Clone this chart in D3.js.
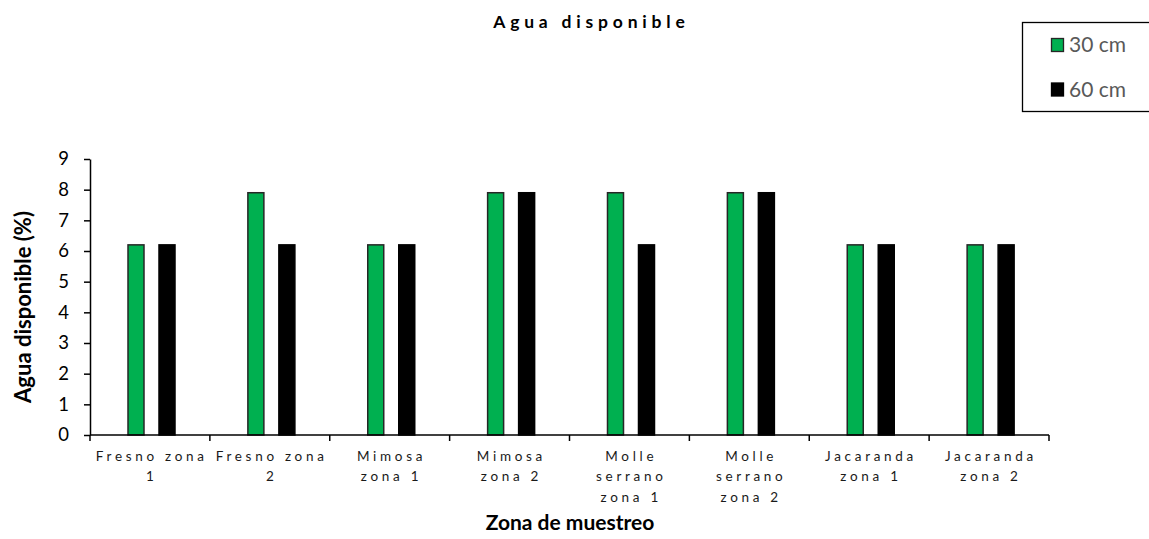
<!DOCTYPE html>
<html>
<head>
<meta charset="utf-8">
<script src="https://cdn.jsdelivr.net/npm/d3@7/dist/d3.min.js"></script>
<style>
  html, body { margin: 0; padding: 0; background: #fff; }
  svg { display: block; }
  text { font-family: Lato, "Open Sans", sans-serif; }
</style>
</head>
<body>
<svg id="chart" width="1149" height="539"></svg>
<script>
// Sampling zones (multi-line labels) and available water by depth
const categories = [
  ["Fresno zona", "1"],
  ["Fresno zona", "2"],
  ["Mimosa", "zona 1"],
  ["Mimosa", "zona 2"],
  ["Molle", "serrano", "zona 1"],
  ["Molle", "serrano", "zona 2"],
  ["Jacaranda", "zona 1"],
  ["Jacaranda", "zona 2"]
];
const values30 = [6.2, 7.9, 6.2, 7.9, 7.9, 7.9, 6.2, 6.2];
const values60 = [6.2, 6.2, 6.2, 7.9, 6.2, 7.9, 6.2, 6.2];
const seriesNames = ["30 cm", "60 cm"];
const yTicks = [0, 1, 2, 3, 4, 5, 6, 7, 8, 9];

const svg = d3.select("#chart");
const plot = { left: 90, right: 1049, top: 159, bottom: 435 };

const x = d3.scaleBand()
  .domain(d3.range(categories.length))
  .range([plot.left, plot.right])
  .paddingInner(0).paddingOuter(0);

const y = d3.scaleLinear().domain([0, 9]).range([plot.bottom, plot.top]);

// Position of the two depth bars inside each zone band
const inner = d3.scaleBand()
  .domain([0, 1])
  .range([38, 85])
  .paddingInner(0.484).paddingOuter(0);

const series = [
  { name: seriesNames[0], values: values30, fill: "#00B050", stroke: "#262626" },
  { name: seriesNames[1], values: values60, fill: "#000000", stroke: "#000000" }
];

// Bars
series.forEach((s, si) => {
  svg.append("g")
    .selectAll("rect")
    .data(s.values)
    .join("rect")
    .attr("x", (d, i) => x(i) + inner(si))
    .attr("width", inner.bandwidth())
    .attr("y", d => y(d))
    .attr("height", d => y(0) - y(d))
    .attr("fill", s.fill)
    .attr("stroke", s.stroke)
    .attr("stroke-width", 1.5);
});

// Y axis
const yAxis = svg.append("g")
  .attr("transform", `translate(${plot.left},0)`)
  .call(d3.axisLeft(y).tickValues(yTicks).tickSize(6).tickSizeOuter(0).tickPadding(15));
yAxis.select(".domain").attr("stroke", "#000").attr("stroke-width", 1.5);
yAxis.selectAll(".tick line").attr("stroke", "#000").attr("stroke-width", 1.5);
yAxis.selectAll(".tick text")
  .attr("font-size", 18.5).attr("fill", "#000")
  .style("font-family", "Lato, sans-serif");

// X axis (ticks at band boundaries)
const xEdges = d3.range(categories.length + 1).map(i => plot.left + i * x.bandwidth());
svg.append("line")
  .attr("x1", plot.left).attr("x2", plot.right)
  .attr("y1", plot.bottom).attr("y2", plot.bottom)
  .attr("stroke", "#000").attr("stroke-width", 1.5);
svg.append("g").selectAll("line")
  .data(xEdges)
  .join("line")
  .attr("x1", d => d).attr("x2", d => d)
  .attr("y1", plot.bottom).attr("y2", plot.bottom + 6)
  .attr("stroke", "#000").attr("stroke-width", 1.5);

// Category labels
const labelSpacing = 3.7;
const labels = svg.append("g").selectAll("text")
  .data(categories)
  .join("text")
  .attr("text-anchor", "middle")
  .attr("font-size", 13.5)
  .attr("fill", "#1a1a1a")
  .style("letter-spacing", labelSpacing + "px");
labels.each(function(lines, i) {
  const t = d3.select(this);
  lines.forEach((line, li) => {
    t.append("tspan")
      .attr("x", x(i) + x.bandwidth() / 2 + labelSpacing / 2)
      .attr("y", 460.5 + li * 20.5)
      .text(line);
  });
});

// Axis titles
svg.append("text")
  .attr("transform", "translate(31,307) rotate(-90)")
  .attr("text-anchor", "middle")
  .attr("font-size", 22).attr("font-weight", "bold").attr("fill", "#000")
  .text("Agua disponible (%)");

svg.append("text")
  .attr("x", 570)
  .attr("y", 530)
  .attr("text-anchor", "middle")
  .attr("font-size", 21).attr("font-weight", "bold").attr("fill", "#000")
  .text("Zona de muestreo");

// Chart title
const titleSpacing = 4.8;
svg.append("text")
  .attr("x", 589 + titleSpacing / 2)
  .attr("y", 28)
  .attr("text-anchor", "middle")
  .attr("font-size", 17.5).attr("font-weight", "bold").attr("fill", "#000")
  .style("letter-spacing", titleSpacing + "px")
  .text("Agua disponible");

// Legend
const legend = svg.append("g");
legend.append("rect")
  .attr("x", 1022.5).attr("y", 22.5)
  .attr("width", 140).attr("height", 89)
  .attr("fill", "#fff").attr("stroke", "#000").attr("stroke-width", 1.3);
series.forEach((s, si) => {
  const g = legend.append("g").attr("transform", `translate(0,${si * 44.5})`);
  g.append("rect")
    .attr("x", 1051.5).attr("y", 38.5)
    .attr("width", 12).attr("height", 13)
    .attr("fill", s.fill).attr("stroke", s.stroke).attr("stroke-width", 1.3);
  g.append("text")
    .attr("x", 1069).attr("y", 52)
    .attr("font-size", 21).attr("fill", "#595959")
    .text(s.name);
});
</script>
</body>
</html>
